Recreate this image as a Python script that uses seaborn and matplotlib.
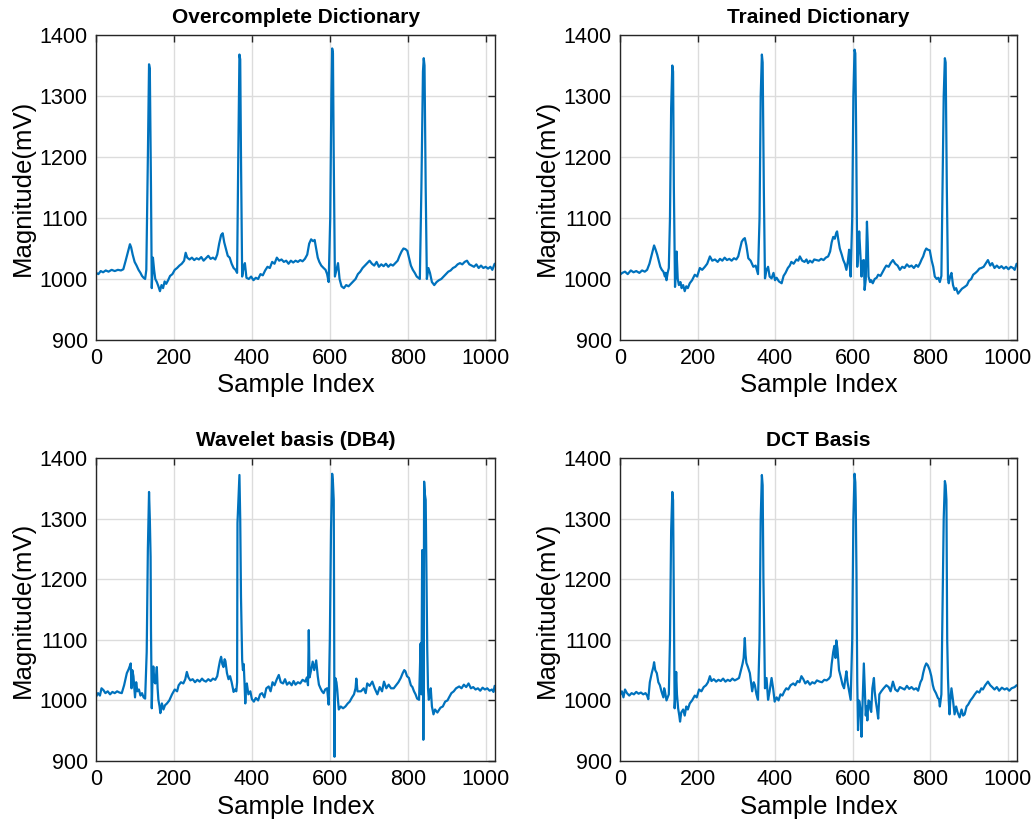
import numpy as np
import pandas as pd
import matplotlib
matplotlib.use("Agg")
import matplotlib.pyplot as plt
import seaborn as sns

# ---- reconstructed ECG segments (sample index, magnitude in mV) ----
ovc_idx = [0, 6, 12, 18, 25, 32, 40, 48, 56, 64, 70, 76, 82, 87, 90, 94, 99, 104, 109, 114,
           118, 122, 126, 129, 133, 136, 138, 141, 143, 146, 149, 152, 156, 160, 164, 168, 172,
           176, 180, 185, 190, 196, 202, 208, 214, 220, 226, 230, 234, 240, 246, 252, 258, 264,
           270, 276, 282, 288, 294, 300, 306, 311, 316, 321, 325, 329, 333, 338, 343, 348, 353,
           358, 362, 365, 368, 370, 372, 375, 379, 382, 386, 392, 398, 404, 410, 416, 422, 428,
           434, 440, 446, 452, 458, 464, 470, 476, 482, 488, 494, 500, 506, 512, 518, 524, 530,
           536, 542, 547, 552, 557, 561, 565, 569, 573, 578, 584, 589, 593, 597, 601, 604, 606,
           608, 610, 613, 617, 621, 625, 630, 636, 642, 648, 654, 660, 666, 672, 678, 684, 690,
           696, 702, 708, 714, 720, 726, 732, 738, 744, 750, 756, 762, 768, 774, 779, 784, 789,
           794, 799, 803, 808, 813, 818, 823, 827, 831, 835, 839, 841, 843, 846, 849, 853, 857,
           862, 868, 874, 880, 886, 892, 898, 904, 910, 916, 922, 928, 934, 940, 946, 952, 958,
           964, 970, 976, 982, 988, 994, 1000, 1006, 1012, 1017, 1023]
ovc_val = [1010, 1008, 1013, 1011, 1014, 1012, 1015, 1013, 1015, 1014, 1016, 1030, 1045, 1057,
           1052, 1040, 1028, 1022, 1015, 1010, 1005, 1002, 1000, 1015, 1200, 1352, 1345, 1150,
           985, 1035, 1015, 1000, 995, 988, 980, 990, 985, 996, 992, 998, 1005, 1008, 1015, 1018,
           1022, 1025, 1030, 1043, 1035, 1032, 1035, 1031, 1034, 1032, 1036, 1030, 1034, 1038,
           1033, 1035, 1032, 1040, 1058, 1072, 1075, 1060, 1050, 1038, 1035, 1025, 1018, 1015,
           1010, 1200, 1368, 1360, 1200, 1004, 1020, 1026, 1002, 1000, 1004, 998, 1002, 1000,
           1008, 1006, 1014, 1020, 1018, 1028, 1025, 1035, 1030, 1032, 1028, 1030, 1025, 1030,
           1027, 1030, 1028, 1031, 1029, 1033, 1040, 1058, 1065, 1062, 1064, 1050, 1035, 1028,
           1022, 1018, 1015, 1008, 995, 1100, 1300, 1378, 1370, 1200, 1004, 1015, 1026, 1000,
           988, 985, 990, 988, 992, 996, 1000, 1008, 1012, 1018, 1022, 1026, 1030, 1025, 1022,
           1028, 1020, 1024, 1021, 1025, 1020, 1024, 1022, 1026, 1030, 1038, 1045, 1050, 1049,
           1046, 1035, 1022, 1015, 1010, 1004, 1002, 1000, 1150, 1340, 1362, 1350, 1150, 1000,
           1018, 1010, 995, 990, 995, 998, 1000, 1004, 1008, 1012, 1014, 1018, 1020, 1024, 1026,
           1024, 1028, 1030, 1024, 1022, 1020, 1024, 1018, 1022, 1018, 1020, 1017, 1020, 1015,
           1025]

trd_idx = [0, 6, 13, 20, 28, 35, 42, 50, 57, 64, 70, 76, 82, 88, 92, 96, 100, 104, 108, 112,
           116, 118, 120, 123, 126, 129, 132, 135, 137, 139, 142, 144, 146, 149, 152, 156, 159,
           163, 167, 171, 175, 180, 186, 193, 199, 206, 212, 219, 225, 232, 238, 245, 252, 258,
           264, 270, 276, 282, 288, 294, 300, 305, 310, 314, 318, 322, 326, 331, 337, 344, 350,
           356, 360, 363, 366, 368, 371, 374, 378, 382, 386, 391, 396, 400, 404, 410, 417, 422,
           427, 433, 438, 442, 448, 455, 460, 464, 470, 476, 481, 485, 490, 496, 501, 507, 513,
           519, 525, 531, 537, 542, 546, 550, 554, 558, 560, 563, 567, 572, 576, 580, 584, 588,
           591, 593, 595, 599, 602, 605, 607, 609, 612, 615, 617, 620, 623, 626, 629, 631, 634,
           637, 639, 641, 645, 648, 652, 657, 662, 666, 672, 678, 683, 687, 693, 698, 704, 710,
           716, 722, 728, 734, 740, 746, 752, 758, 764, 769, 774, 778, 782, 786, 790, 794, 799,
           804, 808, 812, 817, 821, 825, 829, 832, 835, 838, 840, 843, 846, 848, 852, 855, 859,
           863, 867, 872, 877, 882, 889, 895, 900, 906, 911, 917, 922, 927, 932, 938, 943, 949,
           955, 960, 966, 972, 978, 984, 990, 996, 1002, 1008, 1014, 1018, 1023]
trd_val = [1007, 1010, 1012, 1008, 1014, 1011, 1013, 1010, 1014, 1012, 1015, 1025, 1040, 1055,
           1048, 1040, 1030, 1020, 1015, 1012, 1004, 1010, 998, 1010, 1018, 1100, 1280, 1350,
           1340, 1150, 987, 1010, 1045, 1000, 990, 995, 985, 990, 980, 988, 985, 993, 998, 1007,
           1004, 1018, 1015, 1020, 1025, 1037, 1030, 1032, 1028, 1033, 1030, 1035, 1031, 1033,
           1030, 1034, 1032, 1037, 1050, 1061, 1065, 1067, 1055, 1034, 1030, 1020, 1022, 1008,
           1100, 1300, 1368, 1355, 1150, 1001, 1015, 1020, 1004, 1001, 1010, 998, 1002, 996, 993,
           1005, 1010, 1018, 1022, 1028, 1025, 1032, 1030, 1037, 1030, 1028, 1032, 1026, 1030,
           1027, 1032, 1031, 1030, 1033, 1031, 1035, 1037, 1045, 1060, 1069, 1066, 1076, 1078,
           1065, 1050, 1040, 1031, 1025, 1015, 1030, 1048, 1020, 1004, 1100, 1300, 1376, 1370,
           1250, 1020, 1050, 1078, 1040, 1004, 1030, 1031, 982, 1000, 1094, 1060, 1004, 995, 998,
           993, 1000, 1002, 1007, 1005, 1012, 1018, 1022, 1020, 1026, 1031, 1025, 1022, 1015,
           1020, 1018, 1024, 1020, 1022, 1018, 1023, 1020, 1026, 1032, 1037, 1045, 1050, 1048,
           1047, 1030, 1020, 1004, 1000, 1002, 995, 1005, 1150, 1300, 1362, 1355, 1150, 1000, 993,
           1005, 1010, 990, 982, 985, 976, 980, 984, 987, 990, 997, 1000, 1007, 1010, 1013, 1017,
           1018, 1020, 1025, 1031, 1022, 1026, 1018, 1022, 1018, 1021, 1017, 1020, 1016, 1020,
           1018, 1015, 1025]

wav_idx = [0, 5, 10, 14, 19, 24, 30, 36, 42, 48, 54, 60, 66, 72, 79, 84, 89, 91, 93, 96, 100,
           103, 106, 110, 114, 118, 122, 126, 130, 133, 136, 138, 140, 141, 143, 145, 147, 150,
           152, 154, 156, 158, 160, 163, 165, 169, 173, 177, 182, 188, 195, 202, 208, 212, 218,
           224, 229, 233, 237, 242, 248, 254, 260, 266, 272, 276, 282, 288, 294, 300, 306, 311,
           315, 318, 321, 324, 327, 330, 332, 336, 340, 344, 348, 353, 357, 360, 362, 363, 366,
           368, 370, 372, 374, 375, 377, 379, 381, 383, 385, 387, 391, 396, 400, 405, 410, 416,
           421, 426, 432, 437, 443, 448, 453, 458, 464, 469, 474, 480, 485, 490, 496, 502, 507,
           512, 518, 524, 530, 537, 541, 544, 546, 548, 552, 556, 560, 565, 569, 572, 576, 580,
           584, 588, 593, 597, 600, 603, 606, 608, 610, 611, 612, 613, 614, 617, 619, 621, 623,
           628, 634, 640, 646, 651, 657, 662, 666, 668, 671, 674, 680, 687, 692, 696, 702, 709,
           715, 722, 728, 734, 739, 745, 751, 757, 764, 770, 776, 782, 787, 791, 794, 798, 803,
           808, 812, 816, 820, 824, 829, 833, 835, 837, 839, 840, 841, 842, 844, 846, 848, 850,
           852, 854, 857, 859, 862, 866, 870, 876, 884, 890, 896, 902, 906, 912, 918, 924, 932,
           938, 944, 950, 956, 962, 968, 974, 980, 986, 992, 998, 1004, 1010, 1016, 1020, 1023]
wav_val = [1006, 1012, 1008, 1020, 1017, 1012, 1015, 1010, 1014, 1012, 1015, 1013, 1012, 1025,
           1045, 1052, 1061, 1020, 1050, 1040, 1005, 1030, 1015, 1018, 1008, 1012, 1005, 1003,
           1080, 1250, 1344, 1300, 1237, 1116, 987, 1040, 1056, 1030, 1028, 1040, 1055, 1020,
           1001, 990, 979, 995, 985, 992, 995, 1000, 1010, 1018, 1015, 1025, 1030, 1028, 1035,
           1047, 1038, 1033, 1035, 1030, 1034, 1031, 1036, 1033, 1031, 1035, 1032, 1036, 1034,
           1040, 1055, 1065, 1072, 1060, 1055, 1068, 1065, 1045, 1035, 1040, 1030, 1014, 1018,
           1015, 1030, 1293, 1340, 1372, 1300, 1171, 1100, 1067, 1050, 1060, 1030, 995, 1020,
           1028, 1010, 1015, 1002, 998, 1004, 1000, 1010, 1012, 1005, 1020, 1023, 1015, 1030,
           1025, 1035, 1042, 1030, 1028, 1035, 1026, 1030, 1025, 1032, 1026, 1030, 1028, 1034,
           1031, 1038, 1025, 1116, 1038, 1050, 1064, 1050, 1066, 1040, 1026, 1020, 1015, 1012,
           1018, 1020, 993, 1100, 1280, 1374, 1360, 1331, 1150, 907, 1000, 1037, 1030, 1018, 1000,
           985, 990, 987, 990, 995, 998, 1005, 1010, 1020, 1036, 1015, 1015, 1015, 1020, 1012,
           1028, 1024, 1031, 1020, 1010, 1022, 1015, 1031, 1020, 1026, 1020, 1020, 1025, 1030,
           1037, 1045, 1050, 1048, 1040, 1037, 1025, 1022, 1015, 1010, 1003, 1001, 1094, 1010,
           1248, 1230, 935, 1100, 1361, 1340, 1331, 1215, 1085, 1020, 1001, 1010, 1020, 990, 977,
           985, 980, 988, 990, 998, 1000, 1005, 1012, 1015, 1020, 1023, 1020, 1026, 1022, 1028,
           1020, 1022, 1018, 1020, 1016, 1021, 1018, 1020, 1016, 1018, 1014, 1024]

dct_idx = [0, 5, 9, 13, 18, 24, 30, 36, 42, 48, 54, 60, 66, 70, 73, 77, 82, 86, 88, 91, 95, 99,
           103, 107, 112, 114, 116, 120, 123, 126, 129, 132, 135, 137, 139, 141, 143, 145, 147,
           150, 153, 155, 158, 163, 167, 171, 175, 180, 186, 193, 198, 204, 210, 216, 222, 227,
           232, 236, 242, 248, 254, 260, 266, 272, 278, 284, 290, 296, 302, 307, 312, 316, 319,
           322, 324, 326, 330, 335, 338, 341, 345, 348, 352, 356, 360, 363, 366, 368, 370, 374,
           378, 382, 386, 391, 395, 399, 404, 409, 414, 419, 424, 429, 434, 440, 447, 452, 458,
           463, 468, 473, 478, 484, 490, 496, 502, 508, 515, 521, 527, 533, 539, 543, 546, 550,
           553, 556, 558, 561, 565, 569, 574, 578, 581, 584, 587, 591, 595, 599, 602, 605, 607,
           608, 610, 612, 614, 616, 618, 620, 623, 626, 629, 632, 634, 636, 638, 641, 644, 646,
           648, 651, 655, 657, 660, 663, 666, 669, 674, 680, 687, 693, 698, 704, 710, 716, 722,
           728, 734, 740, 746, 752, 758, 764, 769, 775, 779, 782, 786, 790, 794, 799, 803, 807,
           810, 815, 820, 823, 825, 829, 832, 835, 838, 840, 842, 844, 846, 848, 850, 852, 855,
           859, 863, 867, 871, 876, 881, 885, 889, 894, 898, 904, 910, 915, 921, 927, 932, 936,
           942, 949, 955, 960, 966, 972, 978, 985, 992, 998, 1004, 1010, 1018, 1023]
dct_val = [1009, 1015, 1005, 1018, 1012, 1008, 1012, 1010, 1014, 1011, 1013, 1010, 1012, 1008,
           1002, 1030, 1045, 1055, 1063, 1050, 1045, 1030, 1025, 1015, 1005, 1020, 1015, 1000,
           1005, 1010, 1100, 1280, 1344, 1330, 1150, 987, 1010, 1047, 1010, 987, 975, 965, 980,
           985, 975, 990, 985, 995, 1000, 1008, 1005, 1018, 1015, 1022, 1025, 1030, 1040, 1032,
           1035, 1031, 1034, 1032, 1036, 1031, 1034, 1032, 1036, 1033, 1035, 1037, 1050, 1060,
           1070, 1103, 1075, 1062, 1055, 1045, 1030, 1015, 1030, 1025, 1010, 1001, 1100, 1300,
           1372, 1355, 1200, 1020, 1037, 1001, 1015, 1037, 1020, 998, 1005, 1000, 1010, 1008,
           1015, 1020, 1018, 1025, 1028, 1025, 1032, 1030, 1040, 1035, 1028, 1032, 1026, 1030,
           1028, 1033, 1031, 1030, 1034, 1033, 1036, 1040, 1060, 1080, 1090, 1070, 1099, 1085,
           1050, 1040, 1026, 1020, 1035, 1048, 1030, 1015, 1001, 1100, 1300, 1374, 1360, 1331,
           1210, 1030, 951, 1000, 998, 985, 940, 1000, 1061, 1010, 975, 990, 967, 1000, 998, 985,
           981, 1020, 1037, 1015, 998, 985, 970, 1010, 1015, 1020, 1025, 1022, 1015, 1031, 1018,
           1015, 1022, 1020, 1018, 1024, 1019, 1022, 1018, 1020, 1016, 1030, 1035, 1045, 1055,
           1061, 1058, 1050, 1040, 1025, 1018, 1012, 1004, 1002, 990, 1010, 1150, 1300, 1362,
           1355, 1331, 1100, 1037, 1000, 977, 1000, 1020, 1000, 977, 990, 980, 972, 985, 975, 977,
           990, 993, 1000, 1005, 1010, 1015, 1013, 1020, 1018, 1025, 1031, 1025, 1022, 1018, 1022,
           1016, 1021, 1018, 1020, 1016, 1020, 1022, 1025]

titles = ["Overcomplete Dictionary", "Trained Dictionary", "Wavelet basis (DB4)", "DCT Basis"]
series = [(ovc_idx, ovc_val), (trd_idx, trd_val), (wav_idx, wav_val), (dct_idx, dct_val)]
x_ticks = [0, 200, 400, 600, 800, 1000]
y_ticks = [900, 1000, 1100, 1200, 1300, 1400]

sns.set_style("white")
plt.rcParams["font.family"] = ["Liberation Sans", "DejaVu Sans"]
plt.rcParams["text.color"] = "black"
plt.rcParams["axes.labelcolor"] = "black"

LINE = "#0072BD"
EDGE = "#262626"

fig = plt.figure(figsize=(10.35, 8.22), dpi=100)
positions = [
    [0.0928, 0.5864, 0.3855, 0.3710],
    [0.5990, 0.5864, 0.3836, 0.3710],
    [0.0928, 0.0742, 0.3855, 0.3686],
    [0.5990, 0.0742, 0.3836, 0.3686],
]

for pos, title, (idx, val) in zip(positions, titles, series):
    ax = fig.add_axes(pos)
    df = pd.DataFrame({"Sample Index": idx, "Magnitude(mV)": val})
    sns.lineplot(data=df, x="Sample Index", y="Magnitude(mV)", ax=ax,
                 color=LINE, linewidth=1.6, estimator=None, sort=False)
    ax.set_xlim(0, 1024)
    ax.set_ylim(900, 1400)
    ax.set_xticks(x_ticks)
    ax.set_yticks(y_ticks)
    ax.grid(True, color="#dcdcdc", linewidth=1.0)
    ax.set_axisbelow(True)
    for sp in ax.spines.values():
        sp.set_color(EDGE)
        sp.set_linewidth(1.0)
    ax.tick_params(direction="in", top=True, right=True, length=5, width=1.0,
                   color=EDGE, labelsize=15.5, labelcolor="black", pad=6)
    ax.set_title(title, fontsize=15, fontweight="bold", pad=9, color="black")
    ax.set_xlabel("Sample Index", fontsize=18.5, labelpad=3)
    ax.set_ylabel("Magnitude(mV)", fontsize=18.5, labelpad=3)

fig.savefig("out.png", dpi=100)
